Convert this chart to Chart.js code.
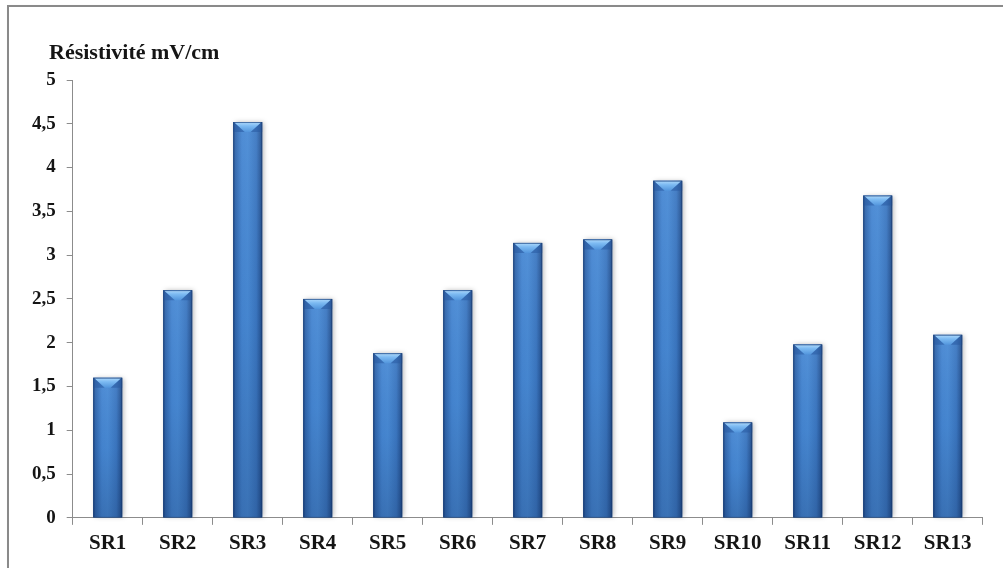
<!DOCTYPE html>
<html lang="fr">
<head>
<meta charset="utf-8">
<title>Résistivité</title>
<script src="https://cdn.jsdelivr.net/npm/chart.js@4.4.1/dist/chart.umd.min.js"></script>
<style>
  html, body { margin: 0; padding: 0; background: #ffffff; overflow: hidden; }
  #wrap { position: relative; width: 1003px; height: 568px; }
  #frame {
    position: absolute; left: 7px; top: 5px; width: 1020px; height: 590px;
    border: 2px solid #8a8a8a; box-sizing: border-box;
    box-shadow: 1px 1px 2px rgba(0,0,0,0.15);
  }
  #chart { position: absolute; left: 0; top: 0; }
</style>
</head>
<body>
<div id="wrap">
  <div id="frame"></div>
  <canvas id="chart" width="1003" height="568"></canvas>
</div>
<script>
// Échantillons et résistivité mesurée (mV/cm)
const categories = ['SR1', 'SR2', 'SR3', 'SR4', 'SR5', 'SR6', 'SR7', 'SR8', 'SR9', 'SR10', 'SR11', 'SR12', 'SR13'];
const resistivite = [1.6, 2.6, 4.52, 2.5, 1.88, 2.6, 3.14, 3.18, 3.85, 1.09, 1.98, 3.68, 2.09];
const yTicks = [0, 0.5, 1, 1.5, 2, 2.5, 3, 3.5, 4, 4.5, 5];
const titre = 'Résistivité mV/cm';

const serif = '"Liberation Serif", "Times New Roman", serif';
const axisGrey = '#8c8c8c';
const textColor = '#151515';

// Titre de l'axe des ordonnées, placé au-dessus de l'axe
const axisTitle = {
  id: 'axisTitle',
  afterDraw(chart) {
    const ctx = chart.ctx;
    ctx.save();
    ctx.font = 'bold 22px ' + serif;
    ctx.fillStyle = textColor;
    ctx.textAlign = 'left';
    ctx.textBaseline = 'alphabetic';
    ctx.fillText(titre, 49, 59);
    ctx.restore();
  }
};

// Relief des barres : dégradé cylindrique, ombre douce et biseau au sommet
const barRelief = {
  id: 'barRelief',
  afterDatasetsDraw(chart) {
    const ctx = chart.ctx;
    const meta = chart.getDatasetMeta(0);
    meta.data.forEach(bar => {
      const { x, y, base, width } = bar.getProps(['x', 'y', 'base', 'width'], true);
      const l = x - width / 2, r = x + width / 2, h = base - y;

      // corps avec ombre
      ctx.save();
      ctx.shadowColor = 'rgba(0,0,0,0.30)';
      ctx.shadowBlur = 5;
      ctx.shadowOffsetX = 1.5;
      ctx.shadowOffsetY = 0;
      const g = ctx.createLinearGradient(l, 0, r, 0);
      g.addColorStop(0, '#1f4a86');
      g.addColorStop(0.08, '#3066ad');
      g.addColorStop(0.3, '#4586d2');
      g.addColorStop(0.5, '#488ad5');
      g.addColorStop(0.8, '#3b77c1');
      g.addColorStop(0.93, '#2b5c9e');
      g.addColorStop(1, '#1c4379');
      ctx.fillStyle = g;
      ctx.fillRect(l, y, width, h);
      ctx.restore();

      // assombrissement vers la base
      ctx.save();
      const v = ctx.createLinearGradient(0, y, 0, base);
      v.addColorStop(0, 'rgba(255,255,255,0.06)');
      v.addColorStop(0.5, 'rgba(10,30,70,0.04)');
      v.addColorStop(1, 'rgba(10,30,70,0.22)');
      ctx.fillStyle = v;
      ctx.fillRect(l, y, width, h);
      ctx.restore();

      // biseau supérieur
      const bh = Math.min(10, h / 2);
      ctx.save();
      const b = ctx.createLinearGradient(0, y, 0, y + bh);
      b.addColorStop(0, '#b0dafc');
      b.addColorStop(0.4, '#7cbaf2');
      b.addColorStop(1, '#5295dc');
      ctx.fillStyle = b;
      ctx.beginPath();
      ctx.moveTo(l + 1, y + 0.5);
      ctx.lineTo(r - 1, y + 0.5);
      ctx.lineTo(x + 3, y + bh);
      ctx.lineTo(x - 3, y + bh);
      ctx.closePath();
      ctx.fill();
      // côtés du biseau
      ctx.fillStyle = 'rgba(40,90,160,0.55)';
      ctx.beginPath();
      ctx.moveTo(l, y);
      ctx.lineTo(l + 1, y + 0.5);
      ctx.lineTo(x - 3, y + bh);
      ctx.lineTo(l + 2, y + bh);
      ctx.lineTo(l, y + bh);
      ctx.closePath();
      ctx.fill();
      ctx.beginPath();
      ctx.moveTo(r, y);
      ctx.lineTo(r - 1, y + 0.5);
      ctx.lineTo(x + 3, y + bh);
      ctx.lineTo(r - 2, y + bh);
      ctx.lineTo(r, y + bh);
      ctx.closePath();
      ctx.fill();
      ctx.restore();

      // contour fin
      ctx.save();
      ctx.strokeStyle = 'rgba(25,60,115,0.55)';
      ctx.lineWidth = 1;
      ctx.strokeRect(l + 0.5, y + 0.5, width - 1, h - 0.5);
      ctx.restore();
    });
  }
};

new Chart(document.getElementById('chart'), {
  type: 'bar',
  data: {
    labels: categories,
    datasets: [{
      data: resistivite,
      backgroundColor: '#3d78c4',
      borderWidth: 0,
      barPercentage: 0.414,
      categoryPercentage: 1
    }]
  },
  options: {
    responsive: false,
    animation: false,
    devicePixelRatio: 1,
    layout: { padding: { left: 16, right: 20.3, top: 80, bottom: 5 } },
    plugins: {
      legend: { display: false },
      tooltip: { enabled: false },
      title: { display: false }
    },
    scales: {
      x: {
        grid: { display: true, drawOnChartArea: false, drawTicks: true, tickLength: 7, color: axisGrey, offset: true },
        border: { display: true, color: axisGrey, width: 1 },
        ticks: {
          color: textColor,
          padding: 7,
          maxRotation: 0,
          autoSkip: false,
          font: { family: serif, size: 21, weight: 'bold', lineHeight: 1.15 }
        }
      },
      y: {
        min: 0,
        max: 5,
        afterFit(scale) { scale.width = 56.7; },
        afterBuildTicks(scale) { scale.ticks = yTicks.map(v => ({ value: v })); },
        grid: { display: true, drawOnChartArea: false, drawTicks: true, tickLength: 6, color: axisGrey },
        border: { display: true, color: axisGrey, width: 1 },
        ticks: {
          color: textColor,
          padding: 11,
          font: { family: serif, size: 19, weight: 'bold' },
          callback: v => String(v).replace('.', ',')
        }
      }
    }
  },
  plugins: [barRelief, axisTitle]
});
</script>
</body>
</html>
